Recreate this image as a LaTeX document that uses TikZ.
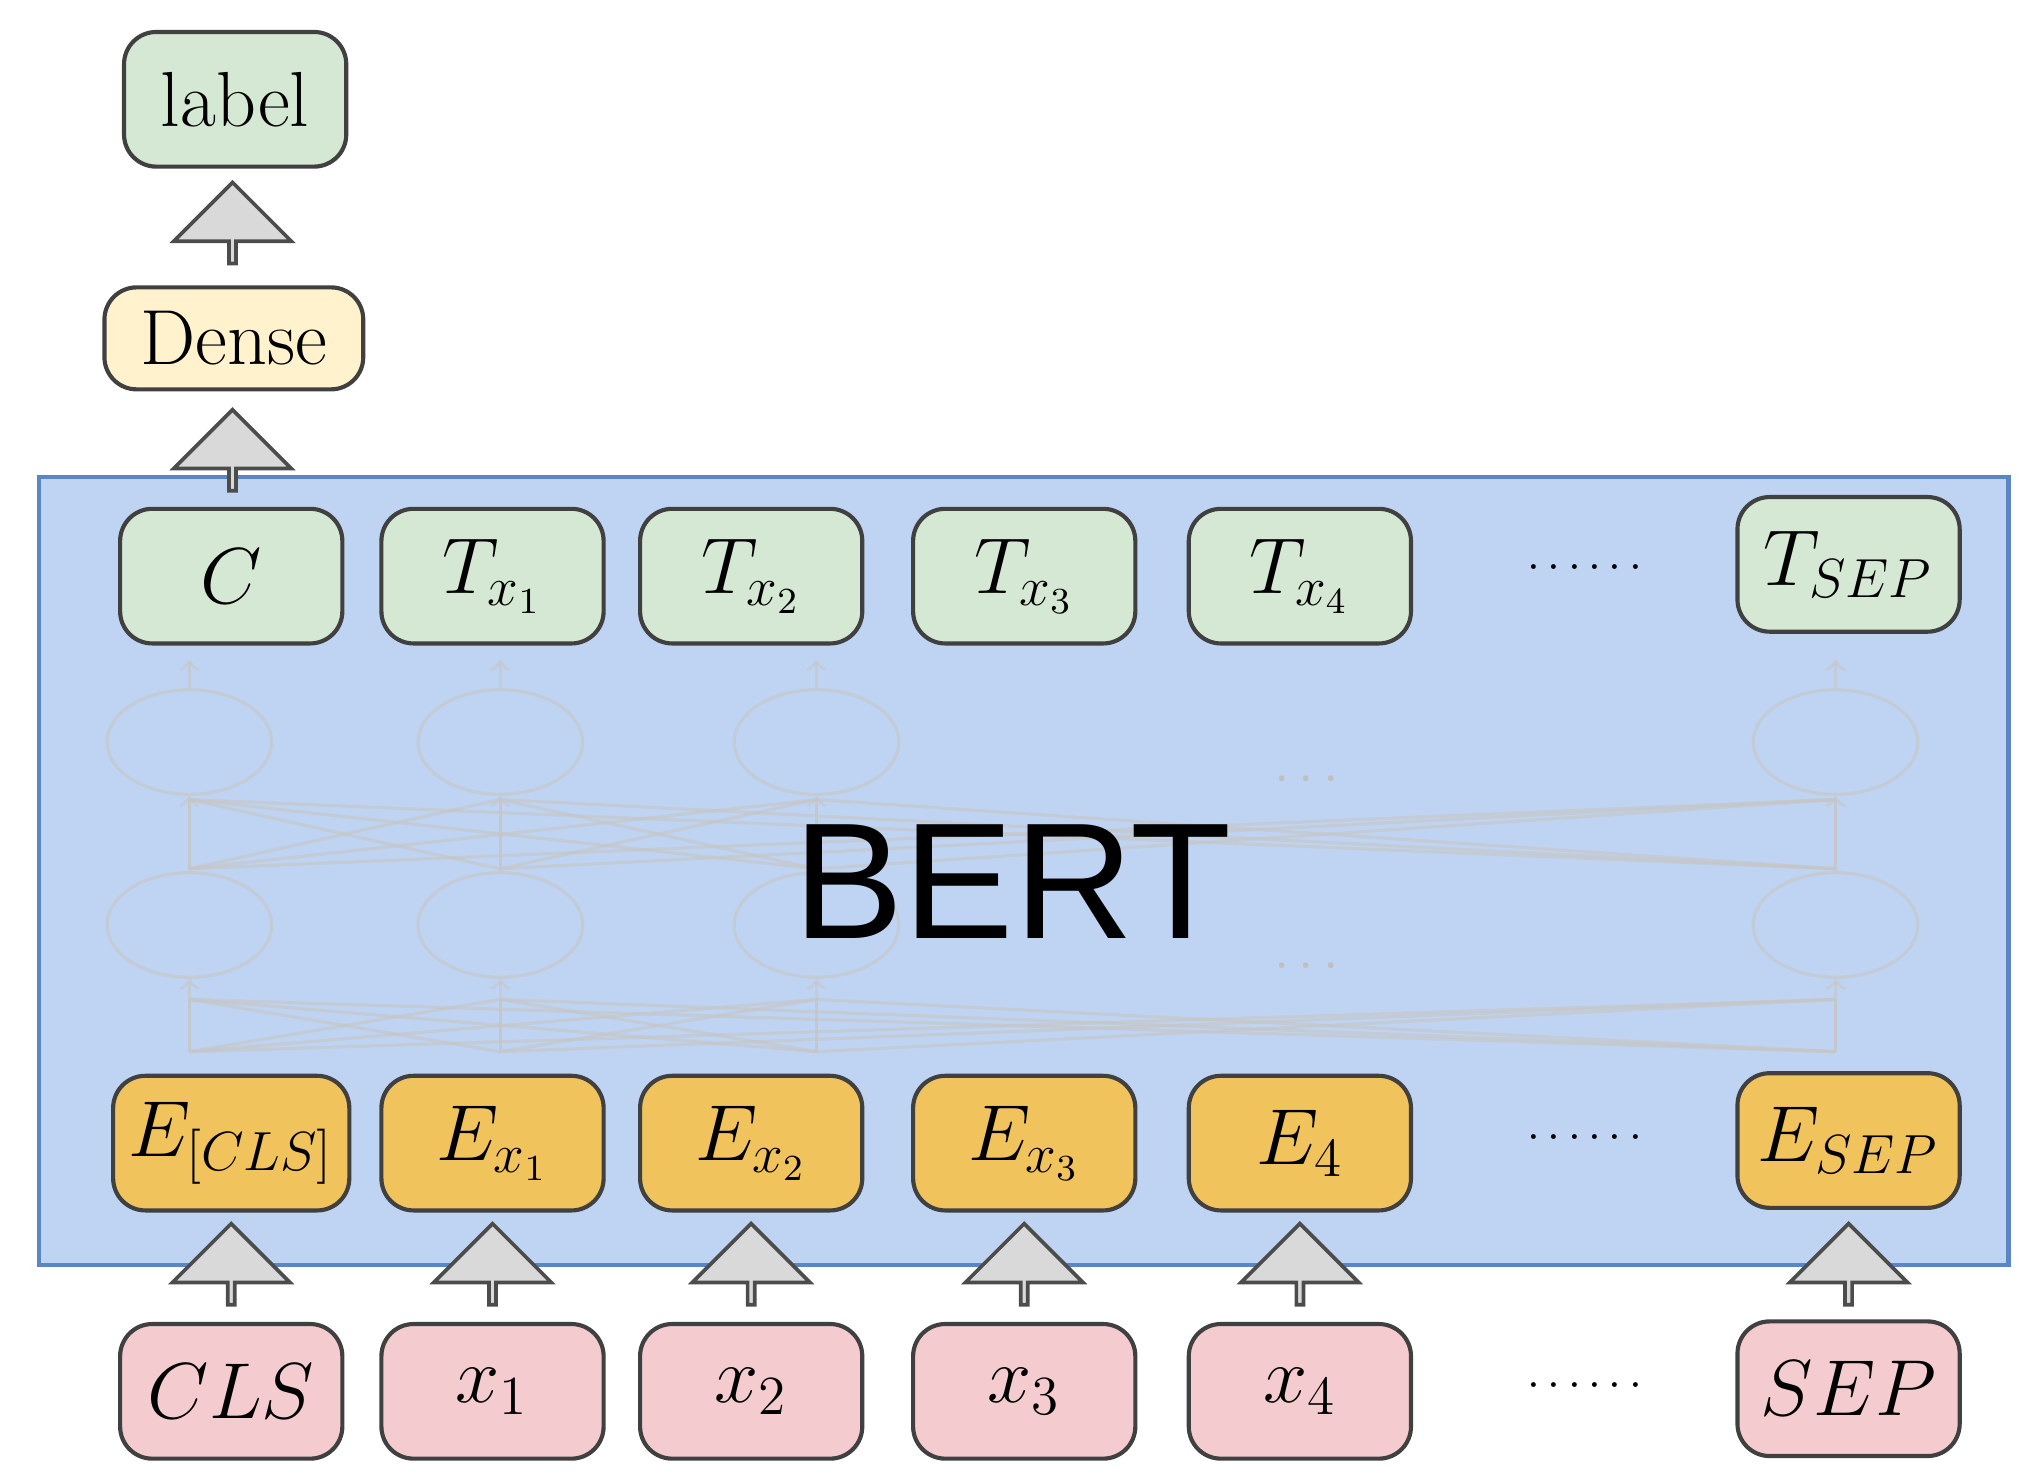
\documentclass[tikz,border=0pt]{standalone}
\usepackage{fontspec}
\usetikzlibrary{shapes.arrows, shapes.geometric, positioning}
\definecolor{grn}{HTML}{D5E8D4}
\definecolor{yel}{HTML}{FFF2CC}
\definecolor{org}{HTML}{F0C35C}
\definecolor{pnk}{HTML}{F4CCD0}
\definecolor{bertfill}{HTML}{BFD4F2}
\definecolor{bertline}{HTML}{5B86C6}
\begin{document}
\begin{tikzpicture}[x=0.01cm,y=-0.01cm,
	box/.style={draw=black!75, line width=0.9pt, rounded corners=7pt, minimum width=1.7cm, minimum height=1.03cm, font=\fontsize{17}{20}\selectfont},
	blk/.style={single arrow, draw=black!70, fill=gray!30, line width=0.8pt, shape border rotate=90, minimum height=0.62cm, minimum width=0.9cm, single arrow head extend=0.22cm, inner sep=0pt},
	faint/.style={draw=gray!45, line width=0.7pt, opacity=0.6}]
	\useasboundingbox (0,0) rectangle (1560,1133);
	% BERT block
	\node[draw=bertline, fill=bertfill, line width=0.9pt, minimum width=15.07cm, minimum height=6.03cm, inner sep=0pt] (BERT) at (783.5,666.5) {};
	% faint network
	\foreach \x [count=\i] in {145,383,625,1405} {
		\node[faint, ellipse, minimum width=1.26cm, minimum height=0.8cm] (U\i) at (\x,568) {};
		\node[faint, ellipse, minimum width=1.26cm, minimum height=0.8cm] (L\i) at (\x,708) {};
		\draw[faint, ->] (\x,805) -- (L\i);
		\draw[faint, ->] (L\i) -- (U\i);
		\draw[faint, ->] (U\i) -- (\x,505);
	}
	\foreach \a in {145,383,625,1405} \foreach \b in {145,383,625,1405} {
		\draw[faint] (\a,805) -- (\b,765);
		\draw[faint] (\a,665) -- (\b,612);
	}
	\node[text=gray!50] (dotsU) at (1000,597) {\large$\cdots$};
	\node[text=gray!50] (dotsL) at (1000,740) {\large$\cdots$};
	\node[font=\fontsize{36}{40}\selectfont\fontspec{Liberation Sans}] (bertlabel) at (775,675) {BERT};
	% rows
	\node[box, fill=grn] (C) at (177,441) {$C$};
	\node[box, fill=grn] (T1) at (377,441) {$T_{x_1}$};
	\node[box, fill=grn] (T2) at (575,441) {$T_{x_2}$};
	\node[box, fill=grn] (T3) at (784,441) {$T_{x_3}$};
	\node[box, fill=grn] (T4) at (995,441) {$T_{x_4}$};
	\node[box, fill=grn] (TSEP) at (1415,432) {$T_{SEP}$};
	\node[box, fill=org] (ECLS) at (177,875) {$E_{[CLS]}$};
	\node[box, fill=org] (E1) at (377,875) {$E_{x_1}$};
	\node[box, fill=org] (E2) at (575,875) {$E_{x_2}$};
	\node[box, fill=org] (E3) at (784,875) {$E_{x_3}$};
	\node[box, fill=org] (E4) at (995,875) {$E_4$};
	\node[box, fill=org] (ESEP) at (1415,873) {$E_{SEP}$};
	\node[box, fill=pnk] (CLS) at (177,1065) {$CLS$};
	\node[box, fill=pnk] (X1) at (377,1065) {$x_1$};
	\node[box, fill=pnk] (X2) at (575,1065) {$x_2$};
	\node[box, fill=pnk] (X3) at (784,1065) {$x_3$};
	\node[box, fill=pnk] (X4) at (995,1065) {$x_4$};
	\node[box, fill=pnk] (SEP) at (1415,1063) {$SEP$};
	\foreach \y in {435,871,1061} \node (d\y) at (1213,\y) {$\cdots\cdots$};
	% output head
	\node[box, fill=yel, minimum width=1.98cm, minimum height=0.78cm] (Dense) at (179,259) {Dense};
	\node[box, fill=grn, minimum height=1.03cm] (label) at (180,76) {label};
	\node[blk] (A0) at (178,172) {};
	\node[blk] (A1) at (178,346) {};
	\foreach \x in {177,377,575,784,995,1415} \node[blk] (B\x) at (\x,969) {};
\end{tikzpicture}
\end{document}
